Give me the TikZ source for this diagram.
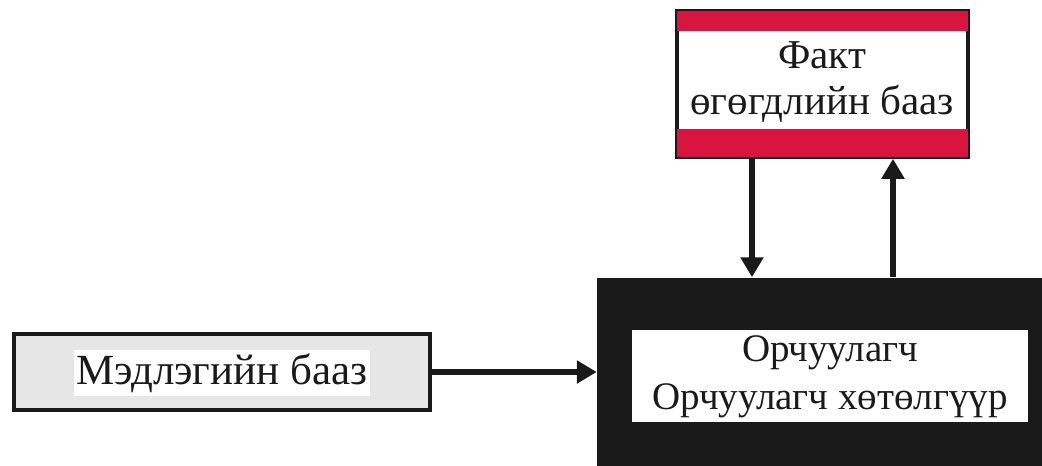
\documentclass[tikz,border=0pt]{standalone}
\usepackage{fontspec}
\setmainfont{Liberation Serif}
\usetikzlibrary{arrows.meta}
\definecolor{band}{HTML}{D8153F}
\definecolor{ink}{HTML}{1B1A1B}
\definecolor{kbfill}{HTML}{E6E6E6}
\tikzset{
  arr/.style={line width=6pt, draw=ink, -{Triangle[length=20pt,width=22pt]}},
  txt/.style={font=\fontsize{40}{47}\selectfont, text=ink, align=center, inner sep=0pt}
}
\begin{document}
\begin{tikzpicture}[x=1pt,y=-1pt]
\useasboundingbox[fill=white] (0,0) rectangle (1042,466);

% fact database with red bands
\node[draw=ink, line width=3.5pt, fill=white, minimum width=291pt, minimum height=146pt, inner sep=0pt] (fact) at (822.5,84) {};
\fill[band] ([shift={(1.75pt,-1.75pt)}]fact.north west) rectangle ([shift={(-1.75pt,-22pt)}]fact.north east);
\fill[band] ([shift={(1.75pt,1.75pt)}]fact.south west) rectangle ([shift={(-1.75pt,30pt)}]fact.south east);
\node[txt, font=\fontsize{41}{46}\selectfont] (facttxt) at (822,82) {Факт\\өгөгдлийн бааз};

% interpreter block
\node[fill=ink, minimum width=446pt, minimum height=189pt, inner sep=0pt] (main) at (820,372) {};
\node[fill=white, minimum width=396pt, minimum height=92pt, inner sep=0pt] (inner) at (830,376) {};
\node[txt, font=\fontsize{39}{48}\selectfont] (maintxt) at (830,377) {Орчуулагч\\Орчуулагч хөтөлгүүр};

% knowledge base
\node[draw=ink, line width=3.5pt, fill=kbfill, minimum width=416pt, minimum height=76pt, inner sep=0pt] (kb) at (222,372) {};
\node[txt, fill=white, font=\fontsize{43}{48}\selectfont, inner xsep=3pt, inner ysep=3pt] (kbtxt) at (222,373) {Мэдлэгийн бааз};

% connectors
\coordinate (dn) at (752,0);
\coordinate (up) at (893,0);
\draw[arr] (fact.south -| dn) -- (main.north -| dn);
\draw[arr] (main.north -| up) -- (fact.south -| up);
\draw[arr] (kb.east) -- (main.west);
\end{tikzpicture}
\end{document}
